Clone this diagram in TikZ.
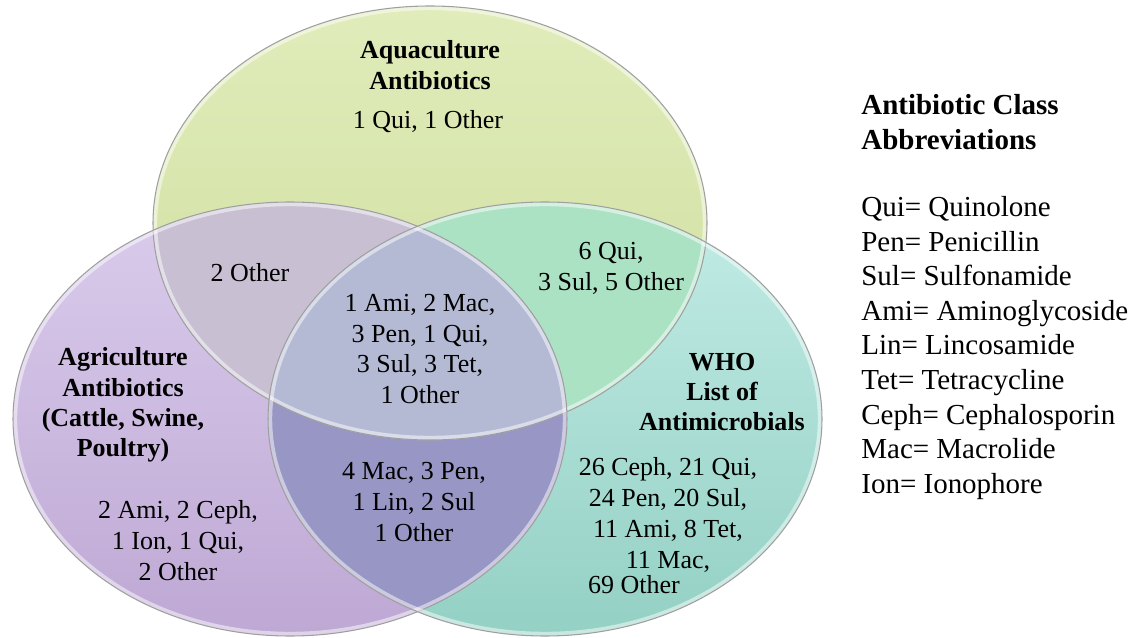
\documentclass[tikz,border=0pt]{standalone}
\usepackage{fontspec}
\setmainfont{Liberation Serif}
\definecolor{aquaA}{RGB}{224,236,186}
\definecolor{aquaB}{RGB}{206,222,158}
\definecolor{agriA}{RGB}{218,204,236}
\definecolor{agriB}{RGB}{190,168,212}
\definecolor{whoA}{RGB}{194,236,230}
\definecolor{whoB}{RGB}{148,208,196}
\definecolor{aquagri}{RGB}{200,192,210}
\definecolor{aquawho}{RGB}{172,226,196}
\definecolor{agriwho}{RGB}{152,150,196}
\definecolor{allthree}{RGB}{180,186,212}

\begin{document}
\begin{tikzpicture}
                [x=0.02cm,y=-0.02cm,
                oval/.style={x radius=277,y radius=217},
                rim/.style={draw=gray!75,line width=0.6pt},
                glow/.style={draw=white,opacity=.5,line width=2.5pt},
                lbl/.style={align=center,inner sep=0pt,font=\fontsize{14.8}{17.6}\selectfont},
                ttl/.style={align=center,inner sep=0pt,font=\fontsize{14.8}{17.2}\selectfont\bfseries},
                key/.style={align=left,anchor=west,inner sep=0pt,font=\fontsize{16.5}{19.7}\selectfont}
                ]
            \useasboundingbox (0,0) rectangle (1139,638);
            \coordinate (gc) at (430,223);
            \coordinate (pc) at (290,419);
            \coordinate (tc) at (545,419);
            \shade[top color=aquaA,bottom color=aquaB] (gc) ellipse [oval];
            \shade[top color=agriA,bottom color=agriB] (pc) ellipse [oval];
            \shade[top color=whoA,bottom color=whoB] (tc) ellipse [oval];
            \begin{scope}
                \clip (gc) ellipse [oval];
                \fill[aquagri] (pc) ellipse [oval];
                \fill[aquawho] (tc) ellipse [oval];
            \end{scope}
            \begin{scope}
                \clip (pc) ellipse [oval];
                \fill[agriwho] (tc) ellipse [oval];
                \clip (gc) ellipse [oval];
                \fill[allthree] (tc) ellipse [oval];
            \end{scope}
            \foreach \c in {gc,pc,tc}
                {\draw[glow] (\c) ellipse [x radius=275,y radius=215];
                 \draw[rim] (\c) ellipse [oval];}
            \node[ttl] (aqua) at (430,65) {Aquaculture\\Antibiotics};
            \node[lbl] (aquaN) at (428,122) {1 Qui, 1 Other};
            \node[lbl] (aquaagri) at (250,273) {2 Other};
            \node[lbl] (aquawho) at (611,268) {6 Qui,\\3 Sul, 5 Other};
            \node[lbl] (core) at (420,349) {1 Ami, 2 Mac,\\3 Pen, 1 Qui,\\3 Sul, 3 Tet,\\1 Other};
            \node[ttl] (agri) at (123,405) {Agriculture\\Antibiotics\\(Cattle, Swine,\\Poultry)};
            \node[lbl] (agriN) at (178,541) {2 Ami, 2 Ceph,\\1 Ion, 1 Qui,\\2 Other};
            \node[lbl] (agriwho) at (414,502) {4 Mac, 3 Pen,\\1 Lin, 2 Sul\\1 Other};
            \node[ttl] (who) at (722,392) {WHO\\List of\\Antimicrobials};
            \node[lbl] (whoN) at (668,515) {26 Ceph, 21 Qui,\\24 Pen, 20 Sul,\\11 Ami, 8 Tet,\\11 Mac,};
            \node[lbl] (whoO) at (634,585) {69 Other};
            \node[key,font=\fontsize{16.5}{19.7}\selectfont\bfseries] (keyT) at (861,122) {Antibiotic Class\\Abbreviations};
            \node[key] (keyL) at (861,348) {Qui= Quinolone\\Pen= Penicillin\\Sul= Sulfonamide\\Ami= Aminoglycoside\\Lin= Lincosamide\\Tet= Tetracycline\\Ceph= Cephalosporin\\Mac= Macrolide\\Ion= Ionophore};
            \end{tikzpicture}
\end{document}
